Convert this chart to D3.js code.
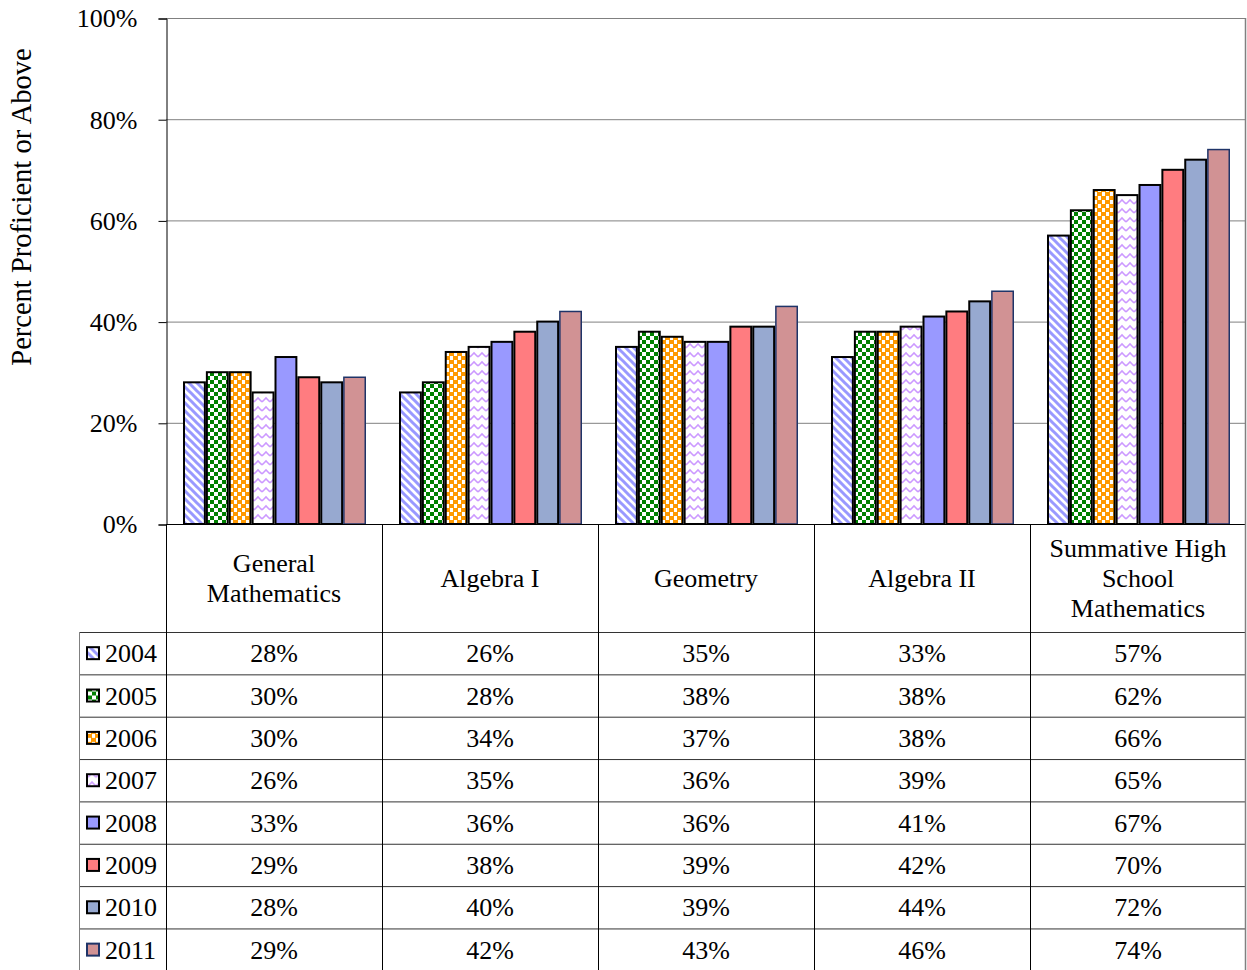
<!DOCTYPE html>
<html>
<head>
<meta charset="utf-8">
<script src="https://cdn.jsdelivr.net/npm/d3@7"></script>
<style>
  html, body { margin: 0; padding: 0; background: #fff; }
  svg text { font-family: "Liberation Serif", "Times New Roman", serif; fill: #000; }
</style>
</head>
<body>
<svg id="chart" width="1247" height="970"></svg>
<script>
// Mathematics proficiency by course, 2004–2011
const categories = ["General Mathematics", "Algebra I", "Geometry", "Algebra II", "Summative High School Mathematics"];
const categoryLines = [["General", "Mathematics"], ["Algebra I"], ["Geometry"], ["Algebra II"], ["Summative High", "School", "Mathematics"]];
const years = ["2004", "2005", "2006", "2007", "2008", "2009", "2010", "2011"];
const values2004 = [28, 26, 35, 33, 57];
const values2005 = [30, 28, 38, 38, 62];
const values2006 = [30, 34, 37, 38, 66];
const values2007 = [26, 35, 36, 39, 65];
const values2008 = [33, 36, 36, 41, 67];
const values2009 = [29, 38, 39, 42, 70];
const values2010 = [28, 40, 39, 44, 72];
const values2011 = [29, 42, 43, 46, 74];
const yTicks = [0, 20, 40, 60, 80, 100];
const yTitle = "Percent Proficient or Above";

const seriesValues = [values2004, values2005, values2006, values2007, values2008, values2009, values2010, values2011];

// fill and outline per year
const fills = ["url(#p2004)", "url(#p2005)", "url(#p2006)", "url(#p2007)", "#9999ff", "#ff7c80", "#97a9d0", "#d19294"];
const strokes = ["#000", "#000", "#000", "#000", "#000", "#000", "#000", "#1f3468"];
const strokeW = [2, 2, 2, 2, 2, 2, 2, 1.5];
const FS = 26;

const svg = d3.select("#chart");
const plot = { left: 166, right: 1246, top: 18, bottom: 524 };

// hatch patterns
const defs = svg.append("defs");
const p04 = defs.append("pattern").attr("id", "p2004").attr("patternUnits", "userSpaceOnUse").attr("width", 8).attr("height", 8);
p04.append("rect").attr("width", 8).attr("height", 8).attr("fill", "#fff");
p04.append("path").attr("d", "M-2,-2 L10,10 M-2,6 L2,10 M6,-2 L10,2").attr("stroke", "#9999ff").attr("stroke-width", 3);

const p05 = defs.append("pattern").attr("id", "p2005").attr("patternUnits", "userSpaceOnUse").attr("width", 8).attr("height", 8);
p05.append("rect").attr("width", 8).attr("height", 8).attr("fill", "#fff");
p05.append("rect").attr("width", 4).attr("height", 4).attr("fill", "#008000");
p05.append("rect").attr("x", 4).attr("y", 4).attr("width", 4).attr("height", 4).attr("fill", "#008000");

const p06 = defs.append("pattern").attr("id", "p2006").attr("patternUnits", "userSpaceOnUse").attr("width", 8).attr("height", 8);
p06.append("rect").attr("width", 8).attr("height", 8).attr("fill", "#ff9900");
p06.append("rect").attr("x", 0).attr("y", 0).attr("width", 3).attr("height", 4).attr("fill", "#fff");
p06.append("rect").attr("x", 4).attr("y", 4).attr("width", 3).attr("height", 4).attr("fill", "#fff");

const p07 = defs.append("pattern").attr("id", "p2007").attr("patternUnits", "userSpaceOnUse").attr("width", 8).attr("height", 9);
p07.append("rect").attr("width", 8).attr("height", 9).attr("fill", "#fff");
p07.append("path").attr("d", "M0,6 L2,4 L4,2 L6,4 L8,6").attr("fill", "none").attr("stroke", "#cc99ff").attr("stroke-width", 1.6);

// scales
const y = d3.scaleLinear().domain([0, 100]).range([plot.bottom, plot.top]);
const x0 = d3.scaleBand().domain(categories).range([plot.left, plot.right]);
const x1 = d3.scaleBand().domain(years).range([17, x0.bandwidth() - 16]);

// gridlines and plot frame
svg.append("g").selectAll("line").data(yTicks.filter(d => d > 0)).join("line")
  .attr("x1", plot.left).attr("x2", plot.right)
  .attr("y1", d => y(d) + 0.5).attr("y2", d => y(d) + 0.5)
  .attr("stroke", "#808080").attr("stroke-width", 1);
svg.append("line").attr("x1", plot.right - 0.5).attr("x2", plot.right - 0.5)
  .attr("y1", plot.top).attr("y2", plot.bottom).attr("stroke", "#808080").attr("stroke-width", 1.5);

// bars
const groups = svg.append("g").selectAll("g").data(categories).join("g")
  .attr("transform", c => `translate(${x0(c)},0)`);
groups.selectAll("rect").data((c, ci) => years.map((yr, yi) => ({ yr, yi, v: seriesValues[yi][ci] }))).join("rect")
  .attr("x", d => x1(d.yr) + strokeW[d.yi] / 2)
  .attr("y", d => y(d.v))
  .attr("width", d => x1.bandwidth() - strokeW[d.yi])
  .attr("height", d => plot.bottom - y(d.v))
  .attr("fill", d => fills[d.yi])
  .attr("stroke", d => strokes[d.yi])
  .attr("stroke-width", d => strokeW[d.yi]);

// y axis
const yAxis = d3.axisLeft(y).tickValues(yTicks).tickSize(8).tickPadding(21).tickFormat(d => d + "%");
const ag = svg.append("g").attr("transform", `translate(${plot.left + 0.5},0.5)`).call(yAxis);
ag.select(".domain").attr("stroke", "#000");
ag.selectAll(".tick line").attr("stroke", "#000");
ag.selectAll(".tick text").attr("font-size", FS).attr("font-family", "Liberation Serif");

svg.append("text")
  .attr("transform", `translate(31,207) rotate(-90)`)
  .attr("text-anchor", "middle").attr("font-size", 28.5).text(yTitle);

// data table
const tableTop = 632, rowH = 42.35, legendLeft = 79;
const rowY = d3.scaleBand().domain(years).range([tableTop, tableTop + rowH * years.length]);
const table = svg.append("g");

// category header row
table.selectAll("text.cat").data(categories).join("text").attr("class", "cat")
  .attr("text-anchor", "middle").attr("font-size", FS)
  .each(function (c, i) {
    const lines = categoryLines[i];
    const cy = (plot.bottom + tableTop) / 2;
    d3.select(this).selectAll("tspan").data(lines).join("tspan")
      .attr("x", x0(c) + x0.bandwidth() / 2)
      .attr("y", (d, k) => cy + (k - (lines.length - 1) / 2) * 30)
      .attr("dy", "0.35em").text(d => d);
  });

// horizontal rules
table.append("line").attr("x1", plot.left).attr("x2", plot.right).attr("y1", plot.bottom + 0.5).attr("y2", plot.bottom + 0.5)
  .attr("stroke", "#000").attr("stroke-width", 1.2);
table.selectAll("line.row").data(years).join("line").attr("class", "row")
  .attr("x1", legendLeft).attr("x2", plot.right)
  .attr("y1", d => rowY(d) + 0.5).attr("y2", d => rowY(d) + 0.5)
  .attr("stroke", "#333").attr("stroke-width", 1);

// vertical rules
table.selectAll("line.col").data(categories.slice(1)).join("line").attr("class", "col")
  .attr("x1", c => x0(c) + 0.5).attr("x2", c => x0(c) + 0.5)
  .attr("y1", plot.bottom).attr("y2", 970).attr("stroke", "#000").attr("stroke-width", 1);
table.append("line").attr("x1", plot.left + 0.5).attr("x2", plot.left + 0.5)
  .attr("y1", plot.bottom).attr("y2", 970).attr("stroke", "#000").attr("stroke-width", 1);
table.append("line").attr("x1", legendLeft + 0.5).attr("x2", legendLeft + 0.5)
  .attr("y1", tableTop).attr("y2", 970).attr("stroke", "#808080").attr("stroke-width", 1);
table.append("line").attr("x1", plot.right - 0.5).attr("x2", plot.right - 0.5)
  .attr("y1", plot.bottom).attr("y2", 970).attr("stroke", "#808080").attr("stroke-width", 1.5);

// legend keys and year labels
const rows = table.selectAll("g.yr").data(years).join("g").attr("class", "yr")
  .attr("transform", d => `translate(0,${rowY(d) + rowY.bandwidth() / 2})`);
rows.append("rect").attr("x", 87).attr("y", -6).attr("width", 12).attr("height", 12)
  .attr("fill", (d, i) => fills[i]).attr("stroke", (d, i) => strokes[i]).attr("stroke-width", 2);
rows.append("text").attr("x", 105).attr("dy", "0.35em").attr("font-size", FS).text(d => d);

// value cells
rows.selectAll("text.val").data((d, i) => seriesValues[i].map((v, ci) => ({ v, c: categories[ci] }))).join("text")
  .attr("class", "val").attr("text-anchor", "middle").attr("font-size", FS).attr("dy", "0.35em")
  .attr("x", d => x0(d.c) + x0.bandwidth() / 2).text(d => d.v + "%");
</script>
</body>
</html>
